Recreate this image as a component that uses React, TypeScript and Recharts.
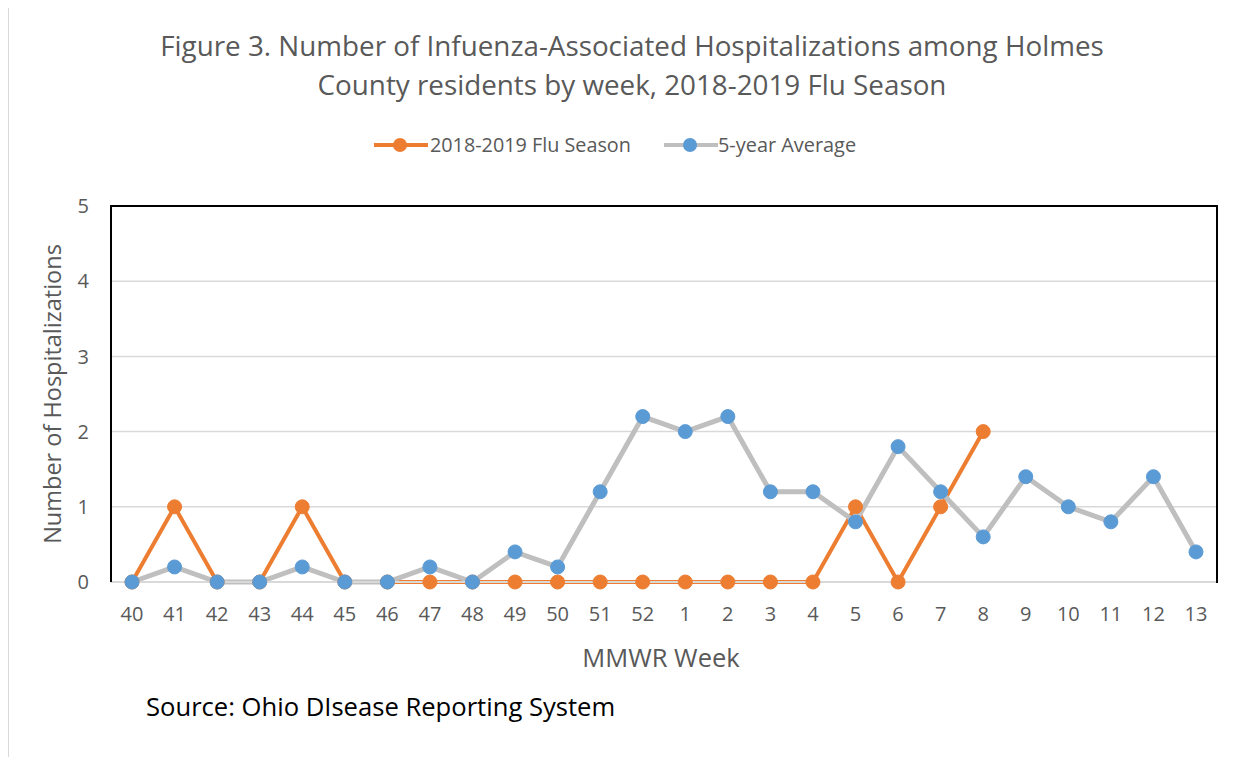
import React from 'react';
import { LineChart, Line, XAxis, YAxis, CartesianGrid } from 'recharts';

const weeks = ['40', '41', '42', '43', '44', '45', '46', '47', '48', '49', '50', '51', '52',
  '1', '2', '3', '4', '5', '6', '7', '8', '9', '10', '11', '12', '13'];
const season = [0, 1, 0, 0, 1, 0, 0, 0, 0, 0, 0, 0, 0, 0, 0, 0, 0, 1, 0, 1, 2, null, null, null, null, null];
const fiveYearAvg = [0, 0.2, 0, 0, 0.2, 0, 0, 0.2, 0, 0.4, 0.2, 1.2, 2.2, 2.0, 2.2, 1.2, 1.2, 0.8, 1.8, 1.2, 0.6, 1.4, 1.0, 0.8, 1.4, 0.4];
const yTicks = [0, 1, 2, 3, 4, 5];

const data = weeks.map((w, i) => ({ week: w, season: season[i], avg: fiveYearAvg[i] }));

const ORANGE = '#ED7D31';
const BLUE = '#5B9BD5';
const GRAY = '#BFBFBF';
const TEXT = '#595959';
const FONT = '"Open Sans", sans-serif';

const LegendMark = ({ line, dot }: { line: string; dot: string }) => (
  <svg width={54} height={16} style={{ display: 'block' }}>
    <line x1={0} y1={8} x2={54} y2={8} stroke={line} strokeWidth={4} />
    <circle cx={26} cy={8} r={7} fill={dot} />
  </svg>
);

export default function App() {
  return (
    <div style={{ position: 'relative', width: 1253, height: 765, margin: -8, background: '#fff', fontFamily: FONT, overflow: 'hidden' }}>
      {/* outer frame, only left/top visible */}
      <div style={{ position: 'absolute', left: 7, top: 5, width: 1300, height: 800, borderLeft: '2px solid #D9D9D9', borderTop: '2px solid #D9D9D9' }} />

      <div style={{ position: 'absolute', left: 32, top: 26, width: 1200, textAlign: 'center', fontSize: 27.8, lineHeight: '39px', color: TEXT }}>
        <div>Figure 3. Number of Infuenza-Associated Hospitalizations among Holmes</div>
        <div>County residents by week, 2018-2019 Flu Season</div>
      </div>

      <div style={{ position: 'absolute', left: 374, top: 137, display: 'flex', alignItems: 'center' }}>
        <LegendMark line={ORANGE} dot={ORANGE} />
        <span style={{ marginLeft: 2, fontSize: 19.8, color: TEXT, lineHeight: '16px' }}>2018-2019 Flu Season</span>
      </div>
      <div style={{ position: 'absolute', left: 664, top: 137, display: 'flex', alignItems: 'center' }}>
        <LegendMark line={GRAY} dot={BLUE} />
        <span style={{ marginLeft: 0, fontSize: 19.9, color: TEXT, lineHeight: '16px' }}>5-year Average</span>
      </div>

      <div style={{ position: 'absolute', left: 0, top: 0 }}>
        <LineChart width={1253} height={765} data={data} margin={{ top: 206, right: 36, left: 0, bottom: 0 }}>
          <CartesianGrid vertical={false} stroke="#D9D9D9" strokeWidth={1.5} />
          <XAxis
            dataKey="week"
            height={183}
            interval={0}
            padding={{ left: 21, right: 21 }}
            axisLine={{ stroke: '#D9D9D9', strokeWidth: 2 }}
            tickLine={false}
            tickSize={0}
            tickMargin={25}
            tick={{ fill: TEXT, fontSize: 20, fontFamily: FONT }}
            label={{ value: 'MMWR Week', position: 'center', dx: -3, dy: -16, fill: TEXT, fontSize: 25.5, fontFamily: FONT }}
          />
          <YAxis
            width={111}
            domain={[0, 5]}
            ticks={yTicks}
            axisLine={{ stroke: '#000', strokeWidth: 2 }}
            tickLine={false}
            tickSize={0}
            tickMargin={22}
            tick={{ fill: TEXT, fontSize: 20, fontFamily: FONT }}
            label={{ value: 'Number of Hospitalizations', angle: -90, position: 'center', dx: -2.5, fill: TEXT, fontSize: 23.5, fontFamily: FONT }}
          />
          <Line
            dataKey="season"
            stroke={ORANGE}
            strokeWidth={4}
            dot={{ r: 7, fill: ORANGE, stroke: ORANGE, strokeWidth: 1 }}
            activeDot={false}
            isAnimationActive={false}
          />
          <Line
            dataKey="avg"
            stroke={GRAY}
            strokeWidth={5}
            dot={{ r: 7, fill: BLUE, stroke: BLUE, strokeWidth: 1 }}
            activeDot={false}
            isAnimationActive={false}
          />
        </LineChart>
      </div>

      {/* plot-area frame: top and right edges */}
      <div style={{ position: 'absolute', left: 110, top: 205, width: 1106, height: 376, borderTop: '2px solid #000', borderRight: '2px solid #000', pointerEvents: 'none' }} />

      <div style={{ position: 'absolute', left: 146, top: 692, fontSize: 25.6, lineHeight: '30px', color: '#000' }}>
        Source: Ohio DIsease Reporting System
      </div>
    </div>
  );
}
